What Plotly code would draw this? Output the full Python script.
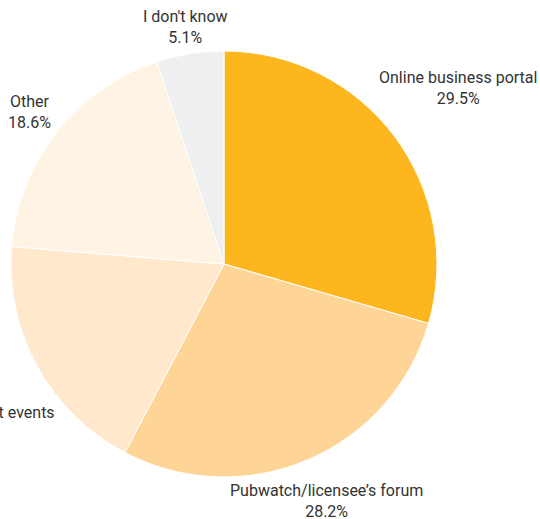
import plotly.graph_objects as go

categories = ["Online business portal", "Pubwatch/licensee\u2019s forum",
              "Business engagement events", "Other", "I don't know"]
values = [29.5, 28.2, 18.6, 18.6, 5.1]
colors = ["#FDB61E", "#FFD597", "#FFE8CC", "#FFF3E3", "#EEEFF1"]

W, H = 540, 519

fig = go.Figure(go.Pie(
    labels=categories,
    values=values,
    sort=False,
    direction="clockwise",
    rotation=0,
    marker=dict(colors=colors, line=dict(color="#ffffff", width=1)),
    textinfo="none",
    hoverinfo="label+percent",
    domain=dict(x=[10 / W, 438 / W], y=[1 - 477 / H, 1 - 51 / H]),
    showlegend=False,
))

total = sum(values)
# label block placement (pixel centers) for each category
label_pos = [
    (458, 88, "center"),
    (326, 501, "center"),
    (57, 423, "right"),
    (29, 112, "center"),
    (185, 27, "center"),
]
for cat, val, (px, py, anchor) in zip(categories, values, label_pos):
    fig.add_annotation(
        x=px / W, y=1 - py / H, xref="paper", yref="paper",
        text=f"{cat}<br>{val / total * 100:.1f}%",
        showarrow=False, xanchor=anchor, yanchor="middle", align="center",
        font=dict(family="Roboto", size=16, color="#333333"),
    )

fig.update_layout(
    width=W, height=H,
    margin=dict(l=0, r=0, t=0, b=0),
    paper_bgcolor="#ffffff",
    plot_bgcolor="#ffffff",
)

fig.write_html("out.html")
